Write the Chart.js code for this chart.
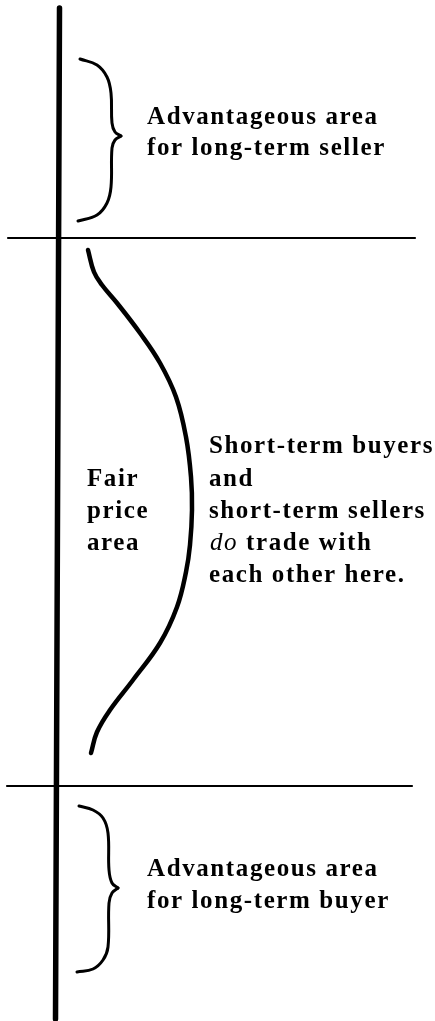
<!DOCTYPE html>
<html lang="en">

<head>
    <meta charset="UTF-8">
    <title>Fair price area</title>
    <script src="https://cdn.jsdelivr.net/npm/chart.js@4.4.1/dist/chart.umd.min.js"></script>
    <style>
        body { margin: 0; background: #fff; }
        canvas { display: block; }
    </style>
</head>

<body>
    <canvas id="diagram" width="435" height="1021"></canvas>

    <script>
        // price axis (slightly slanted, as in the scan)
        const axisX = [59.5, 55.5];
        const axisY = [8, 1019];

        // boundary lines of the fair price area
        const upperLineX = [8, 415];
        const upperLineY = [238, 238];
        const lowerLineX = [7, 412];
        const lowerLineY = [786, 786];

        // brace next to the seller area (two halves meeting at the tip)
        const sellerBraceTopX = [80, 97, 107, 111, 112, 115, 121];
        const sellerBraceTopY = [59, 65, 77, 93, 123, 132, 136];
        const sellerBraceBotX = [121, 115, 112, 111, 107, 97, 78];
        const sellerBraceBotY = [136, 140, 148, 187, 203, 215, 221];

        // brace next to the buyer area
        const buyerBraceTopX = [79, 93, 103, 108, 109, 112, 118];
        const buyerBraceTopY = [806, 810, 818, 833, 870, 883, 888];
        const buyerBraceBotX = [118, 112, 109, 108, 103, 93, 77];
        const buyerBraceBotY = [888, 893, 903, 947, 960, 969, 972];

        // the long curve around the fair price area
        const fairCurveX = [88, 94, 102, 117, 140, 160, 176, 186, 191, 192, 190, 186, 177, 160, 133, 110, 97, 91];
        const fairCurveY = [250, 272, 285, 303, 333, 363, 397, 437, 477, 510, 545, 572, 607, 643, 680, 710, 732, 753];

        // text labels (x = left edge, y = baseline); italicLead is set in italic before the rest
        const labelText = [
            'Advantageous area', 'for long-term seller',
            'Fair', 'price', 'area',
            'Short-term buyers', 'and', 'short-term sellers', ' trade with', 'each other here.',
            'Advantageous area', 'for long-term buyer'
        ];
        const italicLead = ['', '', '', '', '', '', '', '', 'do', '', '', ''];
        const labelX = [147, 147, 87, 87, 87, 209, 209, 209, 210, 209, 147, 147];
        const labelY = [124, 155, 486, 518, 550, 453, 486, 518, 550, 582, 876, 908];

        function toPoints(xs, ys) {
            return xs.map((x, i) => ({ x: x, y: ys[i] }));
        }

        function stroke(xs, ys, width, tension) {
            return {
                data: toPoints(xs, ys),
                showLine: true,
                borderColor: '#000',
                borderWidth: width,
                borderCapStyle: 'round',
                tension: tension,
                pointRadius: 0,
                fill: false,
                clip: false
            };
        }

        const textPlugin = {
            id: 'diagramText',
            afterDatasetsDraw(chart) {
                const ctx = chart.ctx;
                const sx = chart.scales.x;
                const sy = chart.scales.y;
                ctx.save();
                ctx.fillStyle = '#000';
                ctx.textBaseline = 'alphabetic';
                ctx.textAlign = 'left';
                ctx.letterSpacing = '1.6px';
                labelText.forEach((t, i) => {
                    let px = sx.getPixelForValue(labelX[i]);
                    const py = sy.getPixelForValue(labelY[i]);
                    if (italicLead[i]) {
                        ctx.font = 'italic 25px "Liberation Serif"';
                        ctx.fillText(italicLead[i], px, py);
                        px += ctx.measureText(italicLead[i]).width;
                    }
                    ctx.font = 'bold 25px "Liberation Serif"';
                    ctx.fillText(t, px, py);
                });
                ctx.restore();
            }
        };

        new Chart(document.getElementById('diagram'), {
            type: 'scatter',
            data: {
                datasets: [
                    stroke(axisX, axisY, 5.5, 0),
                    stroke(upperLineX, upperLineY, 2.2, 0),
                    stroke(lowerLineX, lowerLineY, 2.2, 0),
                    stroke(sellerBraceTopX, sellerBraceTopY, 3, 0.4),
                    stroke(sellerBraceBotX, sellerBraceBotY, 3, 0.4),
                    stroke(buyerBraceTopX, buyerBraceTopY, 3, 0.4),
                    stroke(buyerBraceBotX, buyerBraceBotY, 3, 0.4),
                    stroke(fairCurveX, fairCurveY, 4.5, 0.4)
                ]
            },
            options: {
                responsive: false,
                animation: false,
                layout: { padding: 0 },
                scales: {
                    x: { type: 'linear', min: 0, max: 435, display: false },
                    y: { type: 'linear', min: 0, max: 1021, reverse: true, display: false }
                },
                plugins: {
                    legend: { display: false },
                    tooltip: { enabled: false }
                }
            },
            plugins: [textPlugin]
        });
    </script>
</body>

</html>
